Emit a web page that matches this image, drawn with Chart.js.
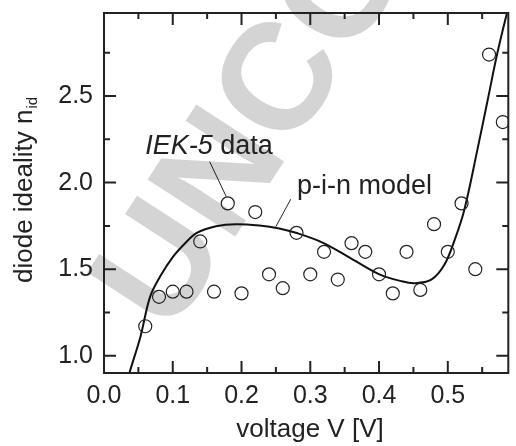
<!DOCTYPE html>
<html>
<head>
<meta charset="utf-8">
<script src="https://cdn.jsdelivr.net/npm/chart.js@4.4.1/dist/chart.umd.min.js"></script>
<style>
  body { margin: 0; background: #fff; }
  #wrap { width: 516px; height: 446px; position: relative; }
</style>
</head>
<body>
<div id="wrap"><canvas id="chart"></canvas></div>
<script>
// measured points (IEK-5 data)
const dataV = [0.06, 0.08, 0.10, 0.12, 0.14, 0.16, 0.18, 0.20, 0.22, 0.24, 0.26, 0.28, 0.30, 0.32,
               0.34, 0.36, 0.38, 0.40, 0.42, 0.44, 0.46, 0.48, 0.50, 0.52, 0.54, 0.56, 0.58];
const dataN = [1.17, 1.34, 1.37, 1.37, 1.66, 1.37, 1.88, 1.36, 1.83, 1.47, 1.39, 1.71, 1.47, 1.60,
               1.44, 1.65, 1.60, 1.47, 1.36, 1.60, 1.38, 1.76, 1.60, 1.88, 1.50, 2.74, 2.35];

// p-i-n model curve
const modelV = [0.032, 0.037, 0.053, 0.067, 0.082, 0.100, 0.118, 0.135, 0.163, 0.192, 0.226, 0.255, 0.279,
                0.317, 0.356, 0.399, 0.433, 0.452, 0.476, 0.495, 0.510, 0.524, 0.543, 0.558, 0.572, 0.586];
const modelN = [0.82, 0.90, 1.11, 1.34, 1.46, 1.57, 1.65, 1.71, 1.748, 1.76, 1.752, 1.735, 1.71,
                1.655, 1.57, 1.473, 1.43, 1.419, 1.439, 1.525, 1.669, 1.842, 2.189, 2.477, 2.747, 2.98];

const xTicks = [0.0, 0.1, 0.2, 0.3, 0.4, 0.5];
const xMinor = [0.05, 0.15, 0.25, 0.35, 0.45, 0.55];
const yTicks = [1.0, 1.5, 2.0, 2.5];
const yMinor = [1.25, 1.75, 2.25, 2.75];

const FONT = "'Liberation Sans', Arial, sans-serif";
const INK = '#222';

// frame, inward ticks, labels, watermark
const decor = {
    id: 'decor',
    beforeDraw(chart) {
        const ctx = chart.ctx;
        ctx.save();
        ctx.translate(170, 337);
        ctx.rotate(-57 * Math.PI / 180);
        ctx.fillStyle = '#d4d4d4';
        ctx.font = 'bold 152px ' + FONT;
        ctx.textBaseline = 'alphabetic';
        ctx.fillText('UNCORRECTED PROOF', 0, 0);
        ctx.restore();
    },
    afterDraw(chart) {
        const ctx = chart.ctx;
        const a = chart.chartArea;
        const xs = chart.scales.x, ys = chart.scales.y;
        ctx.save();
        ctx.strokeStyle = INK;
        ctx.lineWidth = 2;
        ctx.strokeRect(a.left, a.top, a.right - a.left, a.bottom - a.top);

        const tick = (list, len) => {
            list.forEach(v => {
                const px = xs.getPixelForValue(v);
                ctx.beginPath();
                ctx.moveTo(px, a.bottom); ctx.lineTo(px, a.bottom - len);
                ctx.moveTo(px, a.top); ctx.lineTo(px, a.top + len);
                ctx.stroke();
            });
        };
        const ytick = (list, len) => {
            list.forEach(v => {
                const py = ys.getPixelForValue(v);
                ctx.beginPath();
                ctx.moveTo(a.left, py); ctx.lineTo(a.left + len, py);
                ctx.moveTo(a.right, py); ctx.lineTo(a.right - len, py);
                ctx.stroke();
            });
        };
        tick(xTicks, 12); tick(xMinor, 6);
        ytick(yTicks, 12); ytick(yMinor, 6);

        // leader lines
        ctx.lineWidth = 1;
        const seg = (x1, y1, x2, y2) => {
            ctx.beginPath();
            ctx.moveTo(xs.getPixelForValue(x1), ys.getPixelForValue(y1));
            ctx.lineTo(xs.getPixelForValue(x2), ys.getPixelForValue(y2));
            ctx.stroke();
        };
        seg(0.1537, 2.121, 0.1778, 1.919);
        seg(0.2716, 1.904, 0.250, 1.746);

        // annotation texts
        ctx.fillStyle = INK;
        ctx.textBaseline = 'alphabetic';
        ctx.textAlign = 'left';
        let tx = xs.getPixelForValue(0.0599), ty = ys.getPixelForValue(2.166);
        ctx.font = 'italic 27px ' + FONT;
        ctx.fillText('IEK-5', tx, ty);
        const w = ctx.measureText('IEK-5').width;
        ctx.font = '27px ' + FONT;
        ctx.fillText(' data', tx + w, ty);
        ctx.fillText('p-i-n model', xs.getPixelForValue(0.2807), ys.getPixelForValue(1.935));

        // axis titles
        ctx.font = '26px ' + FONT;
        ctx.textAlign = 'center';
        ctx.fillText('voltage V [V]', 310, 437);

        ctx.save();
        ctx.translate(32, 283);
        ctx.rotate(-Math.PI / 2);
        ctx.textAlign = 'left';
        ctx.font = '26px ' + FONT;
        ctx.fillText('diode ideality n', 0, 0);
        const wn = ctx.measureText('diode ideality n').width;
        ctx.font = '15px ' + FONT;
        ctx.fillText('id', wn + 1, 5);
        ctx.restore();
        ctx.restore();
    }
};

new Chart(document.getElementById('chart'), {
    type: 'scatter',
    data: {
        datasets: [
            {
                label: 'p-i-n model',
                data: modelV.map((v, i) => ({ x: v, y: modelN[i] })),
                showLine: true,
                borderColor: '#111',
                borderWidth: 2,
                pointRadius: 0,
                tension: 0.35,
                order: 1
            },
            {
                label: 'IEK-5 data',
                data: dataV.map((v, i) => ({ x: v, y: dataN[i] })),
                pointRadius: 6.5,
                pointBorderWidth: 1.2,
                pointBorderColor: '#222',
                pointBackgroundColor: 'rgba(255,255,255,0)',
                order: 0
            }
        ]
    },
    options: {
        responsive: true,
        maintainAspectRatio: false,
        animation: false,
        layout: { padding: { top: 13, right: 5, left: 0, bottom: 0 } },
        plugins: {
            legend: { display: false },
            tooltip: { enabled: false }
        },
        scales: {
            x: {
                type: 'linear',
                min: 0,
                max: 0.588,
                grid: { display: false, drawTicks: false },
                border: { display: false },
                afterBuildTicks: s => { s.ticks = xTicks.map(v => ({ value: v })); },
                afterFit: s => { s.height = 73; s.paddingLeft = 0; s.paddingRight = 0; },
                ticks: {
                    padding: 8,
                    color: INK,
                    font: { family: FONT, size: 25 },
                    maxRotation: 0,
                    callback: v => v.toFixed(1)
                }
            },
            y: {
                type: 'linear',
                min: 0.9,
                max: 2.98,
                grid: { display: false, drawTicks: false },
                border: { display: false },
                afterBuildTicks: s => { s.ticks = yTicks.map(v => ({ value: v })); },
                afterFit: s => { s.width = 104; s.paddingTop = 0; s.paddingBottom = 0; },
                ticks: {
                    padding: 11,
                    color: INK,
                    font: { family: FONT, size: 25 },
                    callback: v => v.toFixed(1)
                }
            }
        }
    },
    plugins: [decor]
});
</script>
</body>
</html>
